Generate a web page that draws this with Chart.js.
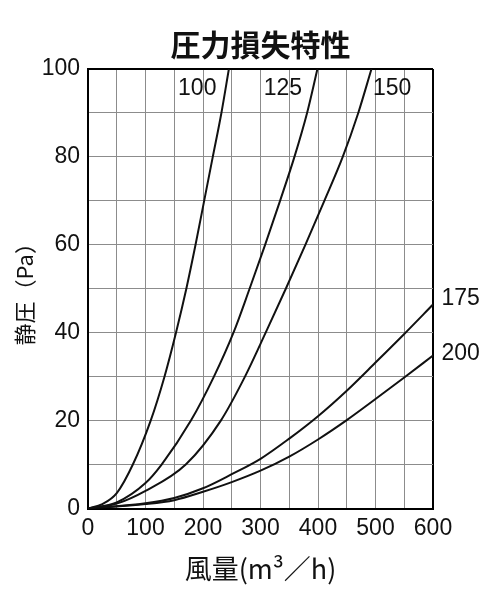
<!DOCTYPE html>
<html>
<head>
<meta charset="utf-8">
<script src="https://cdn.jsdelivr.net/npm/chart.js@4/dist/chart.umd.min.js"></script>
<style>
  body { margin: 0; background: #fff; }
  #wrap { width: 500px; height: 589px; }
</style>
</head>
<body>
<div id="wrap"><canvas id="lossChart" width="500" height="589"></canvas></div>
<script>
// 風量 (m3/h) と静圧 (Pa) — 図から読み取った値
const curveNames = ['100', '125', '150', '175', '200'];

const flow100 = [0, 25, 50, 78, 109, 133, 153, 171, 187, 202, 217, 232, 245];
const pres100 = [0, 1, 3.5, 10, 20, 30, 40, 50, 60, 70, 80, 90, 100];

const flow125 = [0, 50, 100, 128, 179, 219, 253, 281, 308, 334, 359, 381, 399];
const pres125 = [0, 1.4, 5.8, 10, 20, 30, 40, 50, 60, 70, 80, 90, 100];

const flow150 = [0, 50, 100, 170, 231, 273, 309, 344, 378, 411, 443, 470, 493];
const pres150 = [0, 1.1, 4.0, 10, 20, 30, 40, 50, 60, 70, 80, 90, 100];

const flow175 = [0, 100, 150, 200, 250, 300, 350, 400, 450, 500, 550, 600];
const pres175 = [0, 1.2, 2.4, 4.6, 7.8, 11.3, 15.9, 21, 26.8, 33.2, 39.7, 46.4];

const flow200 = [0, 100, 150, 200, 250, 300, 350, 400, 450, 500, 550, 600];
const pres200 = [0, 1, 1.9, 3.8, 6.0, 8.6, 11.8, 15.7, 20.1, 24.9, 29.8, 34.8];

const xTickLabels = [0, 100, 200, 300, 400, 500, 600];
const yTickLabels = [0, 20, 40, 60, 80, 100];

// ラベルの置き場所（軸の値で指定）
const labelAtX = [190, 339, 529, 648, 648];
const labelAtY = [95.5, 95.5, 95.5, 47.8, 35.3];

const allFlows = [flow100, flow125, flow150, flow175, flow200];
const allPres = [pres100, pres125, pres150, pres175, pres200];

const numFont = '"Liberation Sans", Arial, sans-serif';
const jpFont = '"Noto Sans CJK JP", "Noto Sans", sans-serif';

const curveLabels = {
    id: 'curveLabels',
    afterDatasetsDraw(chart) {
        const { ctx, scales } = chart;
        ctx.save();
        ctx.font = '23px ' + numFont;
        ctx.fillStyle = '#111';
        ctx.textAlign = 'center';
        ctx.textBaseline = 'middle';
        curveNames.forEach((name, i) => {
            ctx.fillText(name, scales.x.getPixelForValue(labelAtX[i]), scales.y.getPixelForValue(labelAtY[i]));
        });
        ctx.restore();
    }
};

const datasets = curveNames.map((name, i) => ({
    label: name,
    data: allFlows[i].map((f, j) => ({ x: f, y: allPres[i][j] })),
    borderColor: '#111',
    borderWidth: 2,
    pointRadius: 0,
    fill: false,
    cubicInterpolationMode: 'monotone'
}));

const isEdge = (c, edge) => c.tick && (c.tick.value === 0 || c.tick.value === edge);
const gridColor = (edge) => (c) => isEdge(c, edge) ? '#000' : '#8c8c8c';
const gridWidth = (edge) => (c) => isEdge(c, edge) ? 2 : 1;

new Chart(document.getElementById('lossChart'), {
    type: 'line',
    data: { datasets: datasets },
    plugins: [curveLabels],
    options: {
        responsive: false,
        animation: false,
        layout: { padding: { left: 0, right: 67, top: 0, bottom: 0 } },
        plugins: {
            legend: { display: false },
            tooltip: { enabled: false },
            title: {
                display: true,
                fullSize: false,
                text: '圧力損失特性',
                color: '#111',
                font: { family: jpFont, size: 30, weight: 'bold' },
                padding: { top: 27, bottom: 6 }
            }
        },
        scales: {
            x: {
                type: 'linear',
                min: 0,
                max: 600,
                afterFit: (s) => { s.height = 80.5; },
                ticks: {
                    stepSize: 50,
                    padding: 6,
                    color: '#111',
                    font: { family: numFont, size: 23 },
                    maxRotation: 0,
                    autoSkip: false,
                    callback: (v) => xTickLabels.includes(v) ? String(v) : ''
                },
                grid: { color: gridColor(600), lineWidth: gridWidth(600), drawTicks: false },
                border: { color: '#000', width: 2 },
                title: {
                    display: true,
                    text: '風量(m³／h)',
                    color: '#111',
                    font: { family: jpFont, size: 27 },
                    padding: { top: 0, bottom: 4 }
                }
            },
            y: {
                min: 0,
                max: 100,
                afterFit: (s) => { s.width = 88; },
                ticks: {
                    stepSize: 10,
                    padding: 8,
                    color: '#111',
                    font: { family: numFont, size: 23 },
                    autoSkip: false,
                    callback: (v) => yTickLabels.includes(v) ? String(v) : ''
                },
                grid: { color: gridColor(100), lineWidth: gridWidth(100), drawTicks: false },
                border: { color: '#000', width: 2 },
                title: {
                    display: true,
                    text: '静圧（Pa）',
                    color: '#111',
                    font: { family: jpFont, size: 22 },
                    padding: { top: 11, bottom: 0 }
                }
            }
        }
    }
});
</script>
</body>
</html>
